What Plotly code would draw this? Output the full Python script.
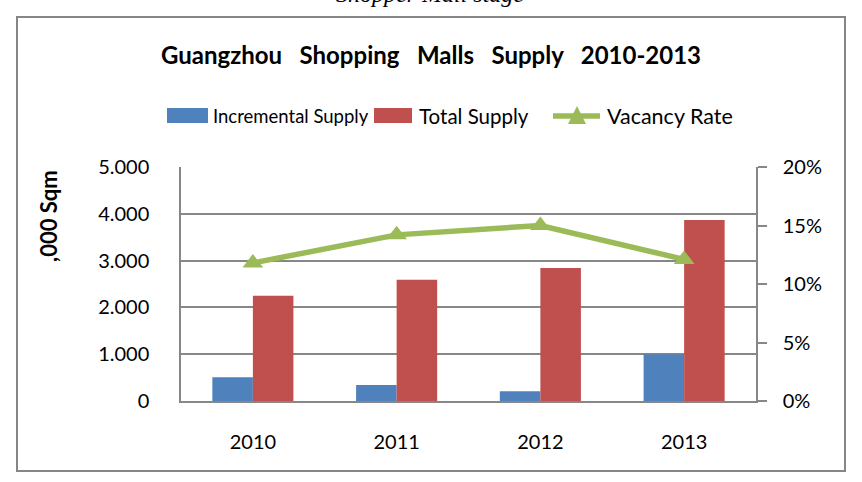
import plotly.graph_objects as go

years = ["2010", "2011", "2012", "2013"]
incremental = [510, 340, 210, 1000]
total = [2250, 2590, 2840, 3870]
vacancy = [0.118, 0.142, 0.150, 0.121]
left_ticks = [0, 1000, 2000, 3000, 4000, 5000]
left_labels = ["0", "1.000", "2.000", "3.000", "4.000", "5.000"]
right_ticks = [0, 0.05, 0.10, 0.15, 0.20]
right_labels = ["0%", "5%", "10%", "15%", "20%"]

BLUE = "#4F81BD"
RED = "#C0504D"
GREEN = "#9BBB59"
GRID = "#878787"
FONT = "Lato"

W, H = 862, 482
L, R, T, B = 181, 756, 167, 401


def px(x):
    return (x - L) / (R - L)


def py(y):
    return (B - y) / (B - T)


fig = go.Figure()
fig.add_trace(go.Bar(x=years, y=incremental, name="Incremental Supply",
                     marker=dict(color=BLUE, line=dict(width=0))))
fig.add_trace(go.Bar(x=years, y=total, name="Total Supply",
                     marker=dict(color=RED, line=dict(width=0))))
fig.add_trace(go.Scatter(x=years, y=vacancy, name="Vacancy Rate", yaxis="y2",
                         mode="lines+markers",
                         line=dict(color=GREEN, width=5.5),
                         marker=dict(symbol="triangle-up", size=18, color=GREEN)))

fig.update_layout(
    width=W, height=H,
    margin=dict(l=L, r=W - R, t=T, b=H - B),
    paper_bgcolor="white", plot_bgcolor="white",
    showlegend=False,
    barmode="group", bargap=0.436, bargroupgap=0,
    font=dict(family=FONT, color="#000000", size=20),
    xaxis=dict(type="category", showgrid=False, showline=True, linecolor=GRID, linewidth=1.5,
               ticks="", tickfont=dict(size=20), ticklabelstandoff=22),
    yaxis=dict(range=[0, 5000], tickvals=left_ticks, ticktext=left_labels,
               showgrid=True, gridcolor=GRID, gridwidth=1.5,
               showline=True, linecolor=GRID, linewidth=1.5, zeroline=False,
               ticks="", tickfont=dict(size=20), ticklabelstandoff=26),
    yaxis2=dict(range=[0, 0.20], tickvals=right_ticks, ticktext=right_labels,
                overlaying="y", side="right", showgrid=False, zeroline=False,
                showline=True, linecolor=GRID, linewidth=1.5,
                ticks="outside", ticklen=9, tickcolor=GRID, tickwidth=1.5,
                tickfont=dict(size=20), ticklabelstandoff=12),
)

shapes = []
# outer frame
shapes.append(dict(type="rect", xref="paper", yref="paper",
                   x0=px(17), x1=px(845), y0=py(17), y1=py(471),
                   line=dict(color="#868686", width=2), fillcolor="rgba(0,0,0,0)", layer="below"))
# legend swatches
shapes.append(dict(type="rect", xref="paper", yref="paper",
                   x0=px(167), x1=px(208), y0=py(108), y1=py(123),
                   line=dict(width=0), fillcolor=BLUE))
shapes.append(dict(type="rect", xref="paper", yref="paper",
                   x0=px(374), x1=px(412), y0=py(108), y1=py(123),
                   line=dict(width=0), fillcolor=RED))
shapes.append(dict(type="line", xref="paper", yref="paper",
                   x0=px(553), x1=px(600), y0=py(116), y1=py(116),
                   line=dict(color=GREEN, width=5.5)))
shapes.append(dict(type="path", xref="paper", yref="paper",
                   path="M {},{} L {},{} L {},{} Z".format(px(568), py(124), px(586), py(124), px(577), py(106)),
                   line=dict(width=0), fillcolor=GREEN))
fig.update_layout(shapes=shapes)

ann = []
ann.append(dict(text="<b>Guangzhou   Shopping   Malls   Supply   2010-2013</b>", xref="paper", yref="paper",
                x=px(431), y=py(55), xanchor="center", yanchor="middle", showarrow=False,
                font=dict(size=24, family=FONT)))
ann.append(dict(text="Incremental Supply", xref="paper", yref="paper",
                x=px(211), y=py(116), xanchor="left", yanchor="middle", showarrow=False,
                font=dict(size=18.5, family=FONT)))
ann.append(dict(text="Total Supply", xref="paper", yref="paper",
                x=px(417), y=py(116), xanchor="left", yanchor="middle", showarrow=False,
                font=dict(size=20.5, family=FONT)))
ann.append(dict(text="Vacancy Rate", xref="paper", yref="paper",
                x=px(605), y=py(116), xanchor="left", yanchor="middle", showarrow=False,
                font=dict(size=21.5, family=FONT)))
ann.append(dict(text="<b>,000 Sqm</b>", xref="paper", yref="paper", textangle=-90,
                x=px(48), y=py(216), xanchor="center", yanchor="middle", showarrow=False,
                font=dict(size=22, family=FONT)))
ann.append(dict(text="<i>Shopper Mall stage</i>", xref="paper", yref="paper",
                x=px(430), y=py(-6), xanchor="center", yanchor="middle", showarrow=False,
                font=dict(size=24, family="Liberation Serif")))
fig.update_layout(annotations=ann)

fig.write_html("out.html")
